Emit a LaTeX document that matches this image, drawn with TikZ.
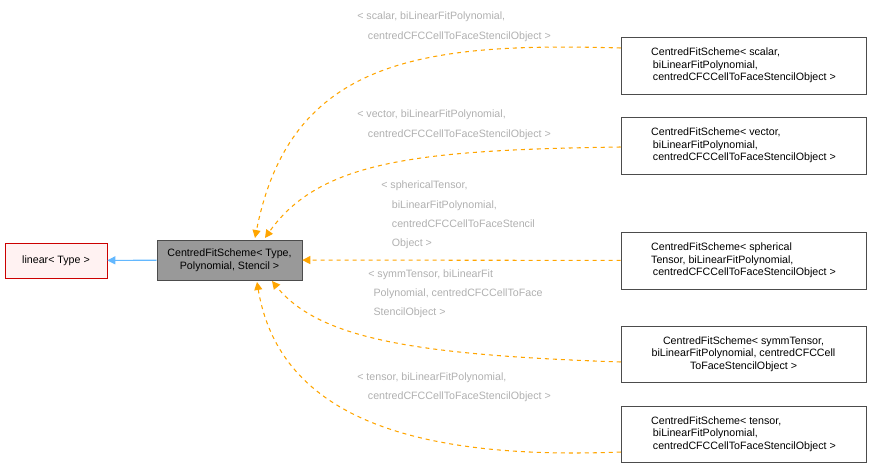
\documentclass[tikz,border=0pt]{standalone}
\usepackage{fontspec}
\setmainfont{Liberation Sans}
\usetikzlibrary{arrows.meta}
\definecolor{edgeorange}{HTML}{FFA500}
\definecolor{edgeblue}{HTML}{63B8FF}
\definecolor{lbl}{HTML}{B0B0B0}
\tikzset{
  box/.style={draw=black!70, fill=white, font=\fontsize{8}{9.5}\selectfont, align=left, inner sep=1pt},
  tpl/.style={->, >={Triangle[length=6pt,width=6pt]}, edgeorange, dashed, thick},
  elabel/.style={text=lbl, font=\fontsize{8}{14.3}\selectfont, align=left, anchor=north west, inner sep=0pt}
}
\begin{document}
\begin{tikzpicture}[x=0.75pt, y=-0.75pt]
  \useasboundingbox (0,0) rectangle (874,468);
  % base and derived class
  \node[box, draw=red!80!black, fill=red!5, minimum width=102*0.75pt, minimum height=35*0.75pt] (linear) at (56,260.5) {linear< Type >};
  \node[box, align=center, fill=black!40, minimum width=145*0.75pt, minimum height=40*0.75pt] (cfs) at (229.5,260) {CentredFitScheme< Type,\\Polynomial, Stencil >};
  \draw[->, >={Triangle[length=6pt,width=6pt]}, edgeblue, thick] (cfs) -- (linear);
  % instantiations
  \node[box, minimum width=245*0.75pt, minimum height=57*0.75pt] (sc) at (743.5,65.5) {CentredFitScheme< scalar,\\ \,biLinearFitPolynomial,\\ \,centredCFCCellToFaceStencilObject >};
  \node[box, minimum width=245*0.75pt, minimum height=57*0.75pt] (ve) at (743.5,145.5) {CentredFitScheme< vector,\\ \,biLinearFitPolynomial,\\ \,centredCFCCellToFaceStencilObject >};
  \node[box, minimum width=245*0.75pt, minimum height=57*0.75pt] (sp) at (743.5,260.5) {CentredFitScheme< spherical\\Tensor, biLinearFitPolynomial,\\ \,centredCFCCellToFaceStencilObject >};
  \node[box, align=center, minimum width=245*0.75pt, minimum height=56*0.75pt] (sy) at (743.5,354) {CentredFitScheme< symmTensor,\\ biLinearFitPolynomial, centredCFCCell\\ToFaceStencilObject >};
  \node[box, minimum width=245*0.75pt, minimum height=56*0.75pt] (te) at (743.5,434) {CentredFitScheme< tensor,\\ \,biLinearFitPolynomial,\\ \,centredCFCCellToFaceStencilObject >};
  % template edges
  \draw[tpl] (sc.west |- 0,48) .. controls (420,42) and (290,60) .. (255,238);
  \draw[tpl] (ve.west |- 0,147) .. controls (420,150) and (320,160) .. (265,238);
  \draw[tpl] (sp) -- (cfs);
  \draw[tpl] (sy.west |- 0,362) .. controls (420,355) and (320,340) .. (272,281);
  \draw[tpl] (te.west |- 0,452) .. controls (420,460) and (280,420) .. (257,282);
  % labels
  \node[elabel] at (357,12) {< scalar, biLinearFitPolynomial,\\\quad centredCFCCellToFaceStencilObject >};
  \node[elabel] at (357,110) {< vector, biLinearFitPolynomial,\\\quad centredCFCCellToFaceStencilObject >};
  \node[elabel] at (381,181) {< sphericalTensor,\\\quad biLinearFitPolynomial,\\\quad centredCFCCellToFaceStencil\\\quad Object >};
  \node[elabel] at (368,269) {< symmTensor, biLinearFit\\\enspace Polynomial, centredCFCCellToFace\\\enspace StencilObject >};
  \node[elabel] at (357,372) {< tensor, biLinearFitPolynomial,\\\quad centredCFCCellToFaceStencilObject >};
\end{tikzpicture}
\end{document}
